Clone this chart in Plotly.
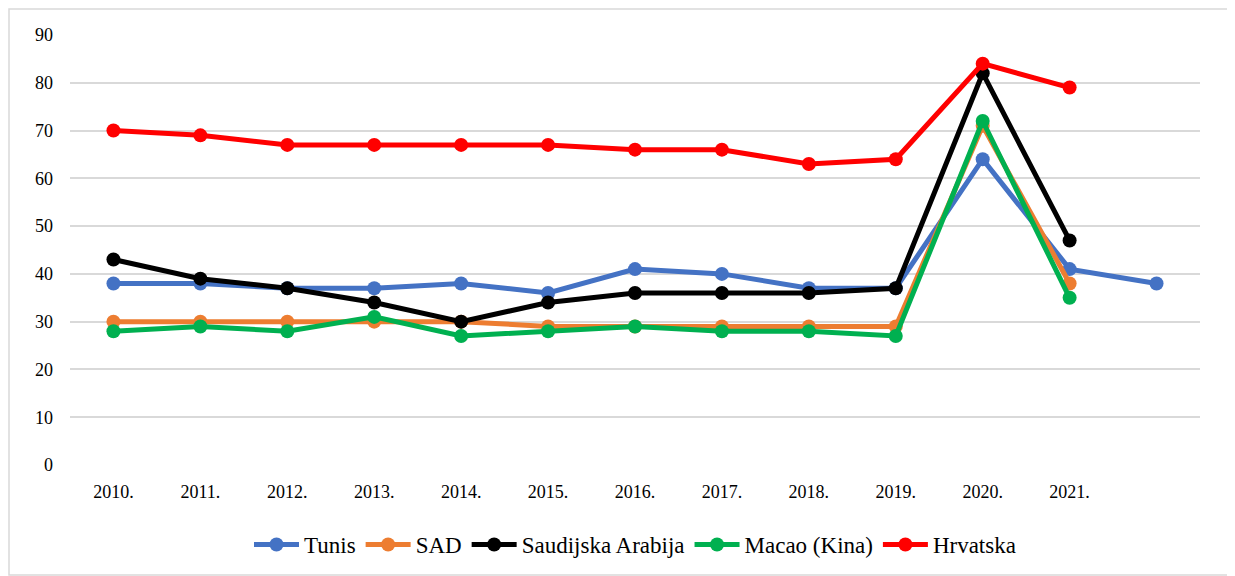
import plotly.graph_objects as go

years = ["2010.", "2011.", "2012.", "2013.", "2014.", "2015.", "2016.", "2017.", "2018.", "2019.", "2020.", "2021.", ""]
tunis = [38, 38, 37, 37, 38, 36, 41, 40, 37, 37, 64, 41, 38]
sad = [30, 30, 30, 30, 30, 29, 29, 29, 29, 29, 71, 38, None]
saudi = [43, 39, 37, 34, 30, 34, 36, 36, 36, 37, 82, 47, None]
macao = [28, 29, 28, 31, 27, 28, 29, 28, 28, 27, 72, 35, None]
hrvatska = [70, 69, 67, 67, 67, 67, 66, 66, 63, 64, 84, 79, None]

series = [
    ("Tunis", tunis, "#4472C4"),
    ("SAD", sad, "#ED7D31"),
    ("Saudijska Arabija", saudi, "#000000"),
    ("Macao (Kina)", macao, "#00B050"),
    ("Hrvatska", hrvatska, "#FF0000"),
]

xs = list(range(len(years)))
fig = go.Figure()
for name, vals, col in series:
    fig.add_trace(go.Scatter(
        x=xs, y=vals, name=name, mode="lines+markers",
        line=dict(color=col, width=5),
        marker=dict(color=col, size=14),
        connectgaps=False,
    ))

# page body has an 8px margin, so figure coords = screen coords - 8
W, H = 1227, 568
ml, mr, mt, mb = 62, 35, 27, 111
pw, ph = W - ml - mr, H - mt - mb

FONT = "Times New Roman, Liberation Serif, DejaVu Serif, serif"

fig.update_layout(
    width=W, height=H,
    margin=dict(l=ml, r=mr, t=mt, b=mb, autoexpand=False),
    paper_bgcolor="white", plot_bgcolor="white",
    font=dict(family=FONT, size=18, color="#000000"),
    showlegend=True,
    legend=dict(orientation="h", x=0.5, xanchor="center", y=-0.135, yanchor="top",
                font=dict(family=FONT, size=23), itemwidth=45, tracegroupgap=0),
    xaxis=dict(
        tickmode="array", tickvals=xs, ticktext=years,
        range=[-0.5, len(years) - 0.5],
        showgrid=False, zeroline=False, showline=False,
        ticks="", ticklabelstandoff=14,
        tickfont=dict(family=FONT, size=18),
    ),
    yaxis=dict(
        range=[0, 90], tickmode="linear", tick0=0, dtick=10,
        showgrid=True, gridcolor="#D9D9D9", gridwidth=1.5,
        zeroline=False, showline=False, ticks="",
        ticklabelstandoff=16, tickfont=dict(family=FONT, size=18),
    ),
)

# outer chart border
fig.add_shape(type="rect", xref="paper", yref="paper",
              x0=(1 - ml) / pw, x1=(1223 - ml) / pw,
              y0=-(H - 1 - mt - ph) / ph, y1=1 + (mt - 1) / ph,
              line=dict(color="#D9D9D9", width=1.5), fillcolor="rgba(0,0,0,0)", layer="below")

fig.write_html("out.html")
